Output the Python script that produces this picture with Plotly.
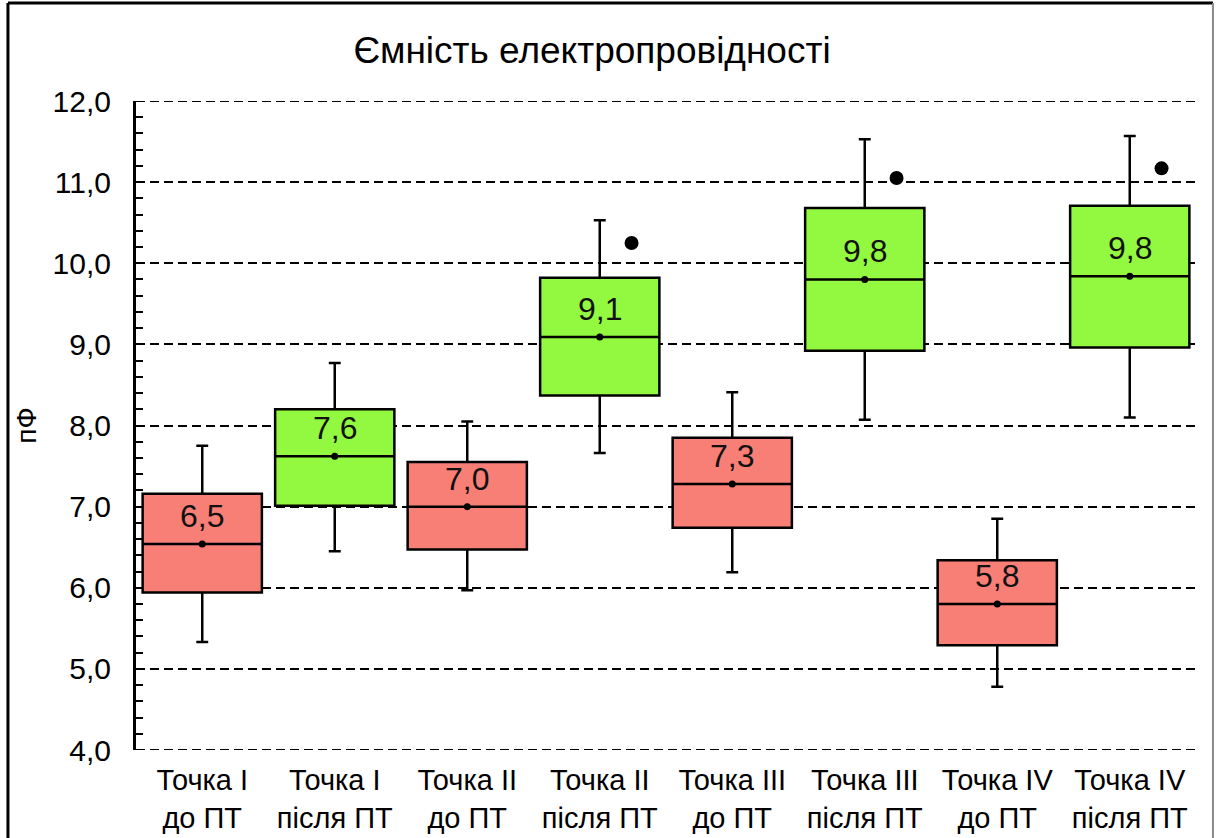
import plotly.graph_objects as go

# Categories (measurement point, before / after treatment)
categories = [
    "Точка I<br>до ПТ", "Точка I<br>після ПТ",
    "Точка II<br>до ПТ", "Точка II<br>після ПТ",
    "Точка III<br>до ПТ", "Точка III<br>після ПТ",
    "Точка IV<br>до ПТ", "Точка IV<br>після ПТ",
]
group = ["before", "after", "before", "after", "before", "after", "before", "after"]

# Box statistics, pF
lower_whisker = [5.33, 6.45, 5.97, 7.66, 6.19, 8.07, 4.78, 8.10]
q1_values     = [5.94, 7.01, 6.47, 8.37, 6.74, 8.92, 5.29, 8.96]
median_values = [6.54, 7.62, 7.00, 9.09, 7.28, 9.80, 5.80, 9.84]
q3_values     = [7.16, 8.20, 7.55, 9.82, 7.85, 10.68, 6.34, 10.71]
upper_whisker = [7.75, 8.77, 8.05, 10.53, 8.41, 11.53, 6.85, 11.57]
mean_values   = [6.54, 7.62, 7.00, 9.09, 7.28, 9.80, 5.80, 9.84]

# Outliers: (category index, value)
outlier_idx    = [3, 5, 7]
outlier_values = [10.25, 11.05, 11.17]

# Y axis range and gridline ticks
y_min, y_max = 4, 12

colors = {"before": "#F77F76", "after": "#93F840"}
FONT = "Arial, 'Liberation Sans', sans-serif"
GRID_DASH = "9px,5px"

fig = go.Figure()
idx = list(range(len(categories)))

for g in ["before", "after"]:
    sel = [i for i in idx if group[i] == g]
    fig.add_trace(go.Box(
        x=sel,
        q1=[q1_values[i] for i in sel],
        median=[median_values[i] for i in sel],
        q3=[q3_values[i] for i in sel],
        lowerfence=[lower_whisker[i] for i in sel],
        upperfence=[upper_whisker[i] for i in sel],
        width=0.9,
        whiskerwidth=0.1,
        fillcolor=colors[g],
        line=dict(color="black", width=2.5),
        boxpoints=False,
        showlegend=False,
        hoverinfo="skip",
    ))

# Mean markers
fig.add_trace(go.Scatter(
    x=idx, y=mean_values, mode="markers",
    marker=dict(color="black", size=7),
    showlegend=False, hoverinfo="skip",
))

# Outlier markers, shifted to the right of the box centre
fig.add_trace(go.Scatter(
    x=[i + 0.24 for i in outlier_idx], y=outlier_values, mode="markers",
    marker=dict(color="black", size=14),
    showlegend=False, hoverinfo="skip",
))

# Value labels above the median line
for i in idx:
    fig.add_annotation(
        x=i, y=mean_values[i],
        text=f"{mean_values[i]:.1f}".replace(".", ","),
        showarrow=False, yanchor="middle", yshift=28,
        font=dict(family=FONT, size=32, color="#111111"),
    )

# Dashed gridlines at the range ends (Plotly hides grid at the plot edges)
for v in (y_min, y_max):
    fig.add_shape(type="line", xref="paper", yref="y",
                  x0=0, x1=1, y0=v, y1=v, layer="below",
                  line=dict(color="black", width=2, dash=GRID_DASH))

# Outer chart frame
fig.add_shape(type="line", xref="paper", yref="paper",
              x0=-0.1208, x1=-0.1208, y0=-0.2, y1=1.151,
              line=dict(color="black", width=3))
fig.add_shape(type="line", xref="paper", yref="paper",
              x0=-0.1208, x1=1.016, y0=1.151, y1=1.151,
              line=dict(color="black", width=3))
fig.add_shape(type="line", xref="paper", yref="paper",
              x0=1.016, x1=1.016, y0=-0.2, y1=1.151,
              line=dict(color="#8a8a8a", width=2))

fig.update_layout(
    width=1219, height=838,
    margin=dict(l=136, r=23, t=101, b=88),
    paper_bgcolor="white", plot_bgcolor="white",
    separators=",.",
    boxmode="overlay",
    font=dict(family=FONT, color="black"),
    title=dict(
        text="Ємність електропровідності",
        x=592 / 1219, xref="container", xanchor="center",
        y=1 - 50 / 838, yref="container", yanchor="middle",
        font=dict(family=FONT, size=37, color="black"),
    ),
    xaxis=dict(
        range=[-0.5, 7.5],
        tickvals=idx, ticktext=categories,
        showgrid=False, zeroline=False, showline=False, ticks="",
        ticklabelstandoff=10, automargin=False,
        tickfont=dict(family=FONT, size=29, color="black"),
    ),
    yaxis=dict(
        range=[y_min, y_max],
        dtick=1, tickformat=".1f",
        showgrid=True, gridcolor="black", gridwidth=2, griddash=GRID_DASH,
        zeroline=False, automargin=False,
        showline=True, linecolor="black", linewidth=3,
        ticks="inside", ticklen=7, tickwidth=2, tickcolor="black",
        minor=dict(dtick=0.2, ticks="inside", ticklen=7, tickwidth=2,
                   tickcolor="black", showgrid=False),
        ticklabelstandoff=16,
        tickfont=dict(family=FONT, size=30, color="black"),
        title=dict(text="пФ", standoff=8,
                   font=dict(family=FONT, size=28, color="black")),
    ),
)

fig.write_html("out.html")
